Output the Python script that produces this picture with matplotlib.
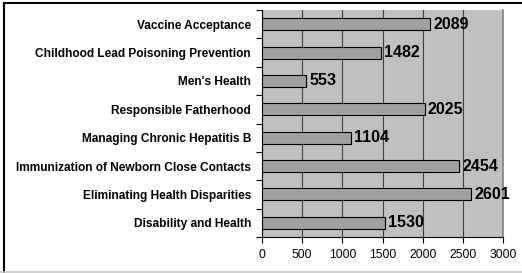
import matplotlib.pyplot as plt
from matplotlib.lines import Line2D

# data (top to bottom as drawn)
categories = ["Vaccine Acceptance", "Childhood Lead Poisoning Prevention", "Men's Health",
              "Responsible Fatherhood", "Managing Chronic Hepatitis B",
              "Immunization of Newborn Close Contacts", "Eliminating Health Disparities",
              "Disability and Health"]
values = [2089, 1482, 553, 2025, 1104, 2454, 2601, 1530]
xticks = [0, 500, 1000, 1500, 2000, 2500, 3000]

plt.rcParams['font.family'] = ['Liberation Sans', 'DejaVu Sans']

W, H = 522, 273
fig = plt.figure(figsize=(W / 100, H / 100), dpi=100)
ax = fig.add_axes([262 / W, 1 - 237 / H, (503 - 262) / W, (237 - 10) / H])

n = len(categories)
ypos = list(range(n))[::-1]
ax.barh(ypos, values, height=0.42, color="#a0a0a0", edgecolor="black", linewidth=0.8, zorder=3)
for y, v in zip(ypos, values):
    ax.text(v + 40, y, str(v), va="center", ha="left", fontsize=11.5, fontweight="bold", zorder=4)

ax.set_facecolor("#c0c0c0")
ax.set_xlim(0, 3000)
ax.set_ylim(-0.5, n - 0.5)
ax.set_xticks(xticks)
ax.set_xticklabels([str(t) for t in xticks], fontsize=8.8)
ax.grid(axis="x", color="#404040", linewidth=0.8, zorder=1)

# category labels between tick marks at boundaries
ax.set_yticks(ypos)
ax.set_yticklabels(categories, fontsize=8.6, fontweight="bold")
ax.tick_params(axis="y", length=0, pad=8)
ax.set_yticks([i - 0.5 for i in range(n + 1)], minor=True)
ax.tick_params(axis="y", which="minor", length=4, width=0.8)
ax.tick_params(axis="x", length=4, width=0.8, pad=5)

ax.spines["top"].set_visible(False)
ax.spines["right"].set_color("#808080")
ax.spines["right"].set_linewidth(1.2)

# chart frame
fig.add_artist(Line2D([3.5 / W, 3.5 / W], [0, 1 - 2.5 / H], transform=fig.transFigure, color="black", lw=1.5))
fig.add_artist(Line2D([3.5 / W, 1], [1 - 2.5 / H, 1 - 2.5 / H], transform=fig.transFigure, color="black", lw=1.5))
fig.add_artist(Line2D([0, 1], [1.5 / H, 1.5 / H], transform=fig.transFigure, color="#c8c8c8", lw=1.2))

fig.savefig("out.png", dpi=100)
